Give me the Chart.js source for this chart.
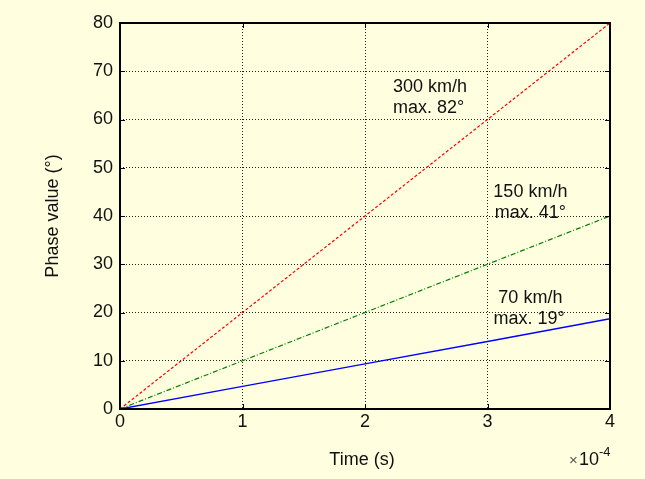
<!DOCTYPE html>
<html>
<head>
<meta charset="utf-8">
<script src="https://cdn.jsdelivr.net/npm/chart.js@4.4.0/dist/chart.umd.min.js"></script>
<style>
  html, body { margin: 0; padding: 0; background: #fdfdf3; }
  #wrap { position: absolute; left: 0; top: 0; width: 645px; height: 479px; }
</style>
</head>
<body>
<div id="wrap"><canvas id="phaseChart" width="645" height="479"></canvas></div>
<script>
// time axis, in units of 1e-4 s
const timeTicks = [0, 1, 2, 3, 4];
const phase300 = [0, 20, 40, 60, 80];
const phase150 = [0, 10, 20, 30, 40];
const phase70 = [0, 4.7, 9.35, 14.0, 18.7];

const labels = [
  { text: '300 km/h', x: 2.53, y: 66.8 },
  { text: 'max. 82\u00b0', x: 2.52, y: 62.3 },
  { text: '150 km/h', x: 3.35, y: 44.9 },
  { text: 'max. 41\u00b0', x: 3.35, y: 40.6 },
  { text: '70 km/h', x: 3.35, y: 23.0 },
  { text: 'max. 19\u00b0', x: 3.34, y: 18.6 }
];

const BG = '#ffffe0';
const FONT = '"Liberation Sans", Arial, sans-serif';

function toPoints(ys) {
  return timeTicks.map(function(t, i) { return { x: t, y: ys[i] }; });
}

const framePlugin = {
  id: 'frame',
  beforeDraw: function(chart) {
    const c = chart.ctx;
    c.save();
    c.fillStyle = BG;
    c.fillRect(0, 0, chart.width, chart.height);
    c.restore();
  },
  afterDraw: function(chart) {
    const c = chart.ctx;
    const a = chart.chartArea;
    const xs = chart.scales.x, ys = chart.scales.y;
    c.save();

    // inward tick marks on all four sides
    c.strokeStyle = '#000';
    c.lineWidth = 1;
    c.beginPath();
    xs.ticks.forEach(function(t) {
      const px = Math.round(xs.getPixelForValue(t.value)) + 0.5;
      c.moveTo(px, a.bottom); c.lineTo(px, a.bottom - 5);
      c.moveTo(px, a.top); c.lineTo(px, a.top + 5);
    });
    ys.ticks.forEach(function(t) {
      const py = Math.round(ys.getPixelForValue(t.value)) + 0.5;
      c.moveTo(a.left, py); c.lineTo(a.left + 5, py);
      c.moveTo(a.right, py); c.lineTo(a.right - 5, py);
    });
    c.stroke();

    // box
    c.lineWidth = 2;
    c.strokeRect(a.left, a.top, a.right - a.left, a.bottom - a.top);

    // annotations
    c.fillStyle = '#111';
    c.font = '18px ' + FONT;
    c.textAlign = 'center';
    c.textBaseline = 'middle';
    labels.forEach(function(l) {
      c.fillText(l.text, xs.getPixelForValue(l.x), ys.getPixelForValue(l.y));
    });

    // axis titles
    c.fillText('Time (s)', 362, 460);
    c.save();
    c.translate(53, 216);
    c.rotate(-Math.PI / 2);
    c.fillText('Phase value (\u00b0)', 0, 0);
    c.restore();

    // exponent
    c.textAlign = 'left';
    c.fillStyle = '#555';
    c.font = '15px ' + FONT;
    c.fillText('\u00d7', 569, 461);
    c.fillStyle = '#111';
    c.font = '18px ' + FONT;
    c.fillText('10', 579, 460);
    c.font = '13px ' + FONT;
    c.fillText('-4', 599, 452);

    c.restore();
  }
};

const gridStyle = {
  color: '#222',
  lineWidth: 1,
  drawTicks: false
};

new Chart(document.getElementById('phaseChart').getContext('2d'), {
  type: 'scatter',
  plugins: [framePlugin],
  data: {
    datasets: [{
      label: '300 km/h',
      data: toPoints(phase300),
      borderColor: '#ff0000',
      borderWidth: 1.2,
      borderDash: [3, 2],
      showLine: true,
      pointRadius: 0
    }, {
      label: '150 km/h',
      data: toPoints(phase150),
      borderColor: '#008000',
      borderWidth: 1.2,
      borderDash: [5, 2, 1, 2],
      showLine: true,
      pointRadius: 0
    }, {
      label: '70 km/h',
      data: toPoints(phase70),
      borderColor: '#0000ff',
      borderWidth: 1.4,
      showLine: true,
      pointRadius: 0
    }]
  },
  options: {
    responsive: false,
    animation: false,
    devicePixelRatio: 1,
    layout: { padding: { top: 23, right: 35, left: 0, bottom: 0 } },
    plugins: {
      legend: { display: false },
      tooltip: { enabled: false }
    },
    scales: {
      x: {
        type: 'linear',
        min: 0, max: 4,
        afterFit: function(s) { s.height = 70; },
        border: { display: false, dash: [1, 2] },
        grid: gridStyle,
        ticks: {
          stepSize: 1,
          color: '#111',
          padding: 2,
          font: { family: FONT, size: 18 }
        }
      },
      y: {
        type: 'linear',
        min: 0, max: 80,
        afterFit: function(s) { s.width = 120; },
        border: { display: false, dash: [1, 2] },
        grid: gridStyle,
        ticks: {
          stepSize: 10,
          color: '#111',
          padding: 7,
          font: { family: FONT, size: 18 }
        }
      }
    }
  }
});
</script>
</body>
</html>
